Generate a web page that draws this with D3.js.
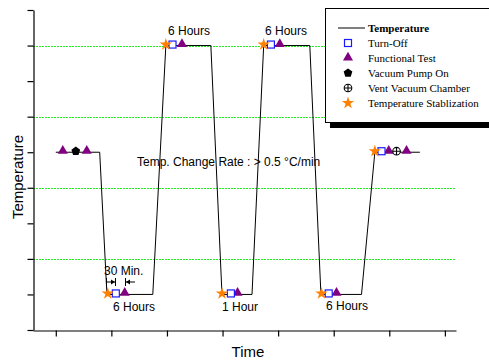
<!DOCTYPE html>
<html>
<head>
<meta charset="utf-8">
<script src="https://cdn.jsdelivr.net/npm/d3@7"></script>
<style>
  body { margin: 0; background: #fff; }
  text { font-family: "Liberation Sans", Arial, sans-serif; }
</style>
</head>
<body>
<div id="chart"></div>
<script>
// temperature profile (time in ticks, temperature in axis units)
var timePts = [0, 0.79, 0.92, 1.745, 1.98, 2.79, 2.99, 3.53, 3.74, 4.57, 4.77, 5.50, 5.74, 6.55];
var tempPts = [5, 5, 1, 1, 8, 8, 1, 1, 8, 8, 1, 1, 5, 5];

// event markers
var starX = [0.935, 1.98, 2.99, 3.74, 4.78, 5.74];
var starY = [1, 8, 1, 8, 1, 5];
var squareX = [1.08, 2.10, 3.15, 3.87, 4.91, 5.86];
var squareY = [1, 8, 1, 8, 1, 5];
var triX = [0.126, 0.557, 1.24, 2.27, 3.27, 4.03, 5.05, 5.99, 6.31];
var triY = [5, 5, 1, 8, 1, 8, 1, 5, 5];
var pumpX = [0.36];
var pumpY = [5];
var ventX = [6.13];
var ventY = [5];

var xTicks = [0, 1, 2, 3, 4, 5, 6, 7];
var yTicks = [0, 1, 2, 3, 4, 5, 6, 7, 8, 9];
var gridVals = [2, 4, 6, 8];

var legendLabels = ["Temperature", "Turn-Off", "Functional Test", "Vacuum Pump On",
                    "Vent Vacuum Chamber", "Temperature Stablization"];

var width = 489,
    height = 360;

var x = d3.scaleLinear().domain([-0.41, 7.2]).range([33, 456]);
var y = d3.scaleLinear().domain([0, 9]).range([330, 10]);

var svg = d3.select("#chart").append("svg")
   .attr("width", width)
   .attr("height", height);

// green dotted grid lines
svg.selectAll(".grid")
   .data(gridVals)
   .enter().append("line")
   .attr("x1", x.range()[0]).attr("x2", x.range()[1])
   .attr("y1", function(d) { return Math.round(y(d)) + 0.5; })
   .attr("y2", function(d) { return Math.round(y(d)) + 0.5; })
   .attr("stroke", "#22ee22")
   .attr("stroke-width", 1)
   .attr("stroke-dasharray", "2,1")
   .attr("shape-rendering", "crispEdges");

// axes
var xAxis = svg.append("g")
   .attr("transform", "translate(0," + (y(0) + 0.5) + ")")
   .call(d3.axisBottom(x).tickValues(xTicks).tickSize(6).tickSizeOuter(0).tickFormat(""));
var yAxis = svg.append("g")
   .attr("transform", "translate(" + (x.range()[0] + 0.5) + ",0)")
   .call(d3.axisLeft(y).tickValues(yTicks).tickSize(6).tickSizeOuter(0).tickFormat(""));
svg.selectAll(".domain, .tick line").attr("stroke", "#000").attr("stroke-width", 1.2);

svg.append("text")
   .attr("x", 248).attr("y", 357)
   .attr("text-anchor", "middle")
   .style("font-size", "15px")
   .text("Time");
svg.append("text")
   .attr("transform", "translate(23,177) rotate(-90)")
   .attr("text-anchor", "middle")
   .style("font-size", "15px")
   .text("Temperature");

// temperature line
var pts = timePts.map(function(t, i) { return [t, tempPts[i]]; });
svg.append("path")
   .datum(pts)
   .attr("fill", "none")
   .attr("stroke", "#000")
   .attr("stroke-width", 1)
   .attr("d", d3.line().x(function(d) { return x(d[0]); }).y(function(d) { return y(d[1]); }));

// marker shapes
function pentagon(r) {
   var p = [];
   for (var i = 0; i < 5; i++) {
      var a = -Math.PI / 2 + i * 2 * Math.PI / 5;
      p.push([r * Math.cos(a), r * Math.sin(a)]);
   }
   return "M" + p.join("L") + "Z";
}

function drawStar(g) {
   g.append("path").attr("d", d3.symbol().type(d3.symbolStar).size(48)())
      .attr("fill", "#ff8000");
}
function drawSquare(g) {
   g.append("rect").attr("x", -3.5).attr("y", -3.5).attr("width", 7).attr("height", 7)
      .attr("fill", "#fff").attr("stroke", "#1a1aff").attr("stroke-width", 1.2);
}
function drawTri(g) {
   g.append("path").attr("d", d3.symbol().type(d3.symbolTriangle).size(44)())
      .attr("transform", "translate(0,-0.5)")
      .attr("fill", "#800080");
}
function drawPump(g) {
   g.append("path").attr("d", pentagon(4.6)).attr("fill", "#000");
}
function drawVent(g) {
   g.append("circle").attr("r", 3.8).attr("fill", "#fff").attr("stroke", "#000").attr("stroke-width", 1.1);
   g.append("path").attr("d", "M-3.8,0H3.8M0,-3.8V3.8").attr("stroke", "#000").attr("stroke-width", 1.1);
}

function plotMarkers(xs, ys, fn) {
   xs.forEach(function(v, i) {
      var g = svg.append("g").attr("transform", "translate(" + x(v) + "," + (y(ys[i]) - 1) + ")");
      fn(g);
   });
}
plotMarkers(triX, triY, drawTri);
plotMarkers(pumpX, pumpY, drawPump);
plotMarkers(ventX, ventY, drawVent);
plotMarkers(squareX, squareY, drawSquare);
plotMarkers(starX, starY, drawStar);

// annotations
function note(t, px, py, size) {
   svg.append("text").attr("x", px).attr("y", py)
      .style("font-size", (size || 12) + "px")
      .text(t);
}
note("6 Hours", 168, 35);
note("6 Hours", 265, 35);
note("Temp. Change Rate : > 0.5 °C/min", 137, 166);
note("30 Min.", 104, 275);
note("6 Hours", 113, 311);
note("1 Hour", 222, 311);
note("6 Hours", 326, 310);

// 30 min dimension arrows
var ay = 282;
var dim = svg.append("g").attr("stroke", "#000").attr("stroke-width", 1).attr("fill", "none");
dim.append("path").attr("d", "M106.5," + (ay - 4) + "V" + (ay + 4) + "M106.5," + ay + "H115");
dim.append("path").attr("d", "M115.5," + (ay - 4) + "V" + (ay + 4));
dim.append("path").attr("d", "M125.5," + (ay - 4) + "V" + (ay + 4) + "M126," + ay + "H135");
svg.append("path").attr("d", "M115," + ay + "l-4,-2.5v5z").attr("fill", "#000");
svg.append("path").attr("d", "M126," + ay + "l4,-2.5v5z").attr("fill", "#000");

// legend
var lg = svg.append("g");
lg.append("rect").attr("x", 330).attr("y", 122).attr("width", 170).attr("height", 6).attr("fill", "#000");
lg.append("rect").attr("x", 325.5).attr("y", 8.5).attr("width", 175).attr("height", 114)
   .attr("fill", "#fff").attr("stroke", "#000").attr("stroke-width", 1);

var drawers = [null, drawSquare, drawTri, drawPump, drawVent, drawStar];
legendLabels.forEach(function(lab, i) {
   var ly = 28 + i * 15;
   if (i === 0) {
      lg.append("line").attr("x1", 338).attr("x2", 365).attr("y1", ly).attr("y2", ly)
         .attr("stroke", "#000").attr("stroke-width", 1);
   } else {
      drawers[i](lg.append("g").attr("transform", "translate(348," + ly + ")"));
   }
   lg.append("text").attr("x", 368).attr("y", ly + 4)
      .style("font-family", "'Liberation Serif', 'Times New Roman', serif")
      .style("font-size", "11px")
      .style("font-weight", i === 0 ? "bold" : "normal")
      .text(lab);
});
</script>
</body>
</html>
